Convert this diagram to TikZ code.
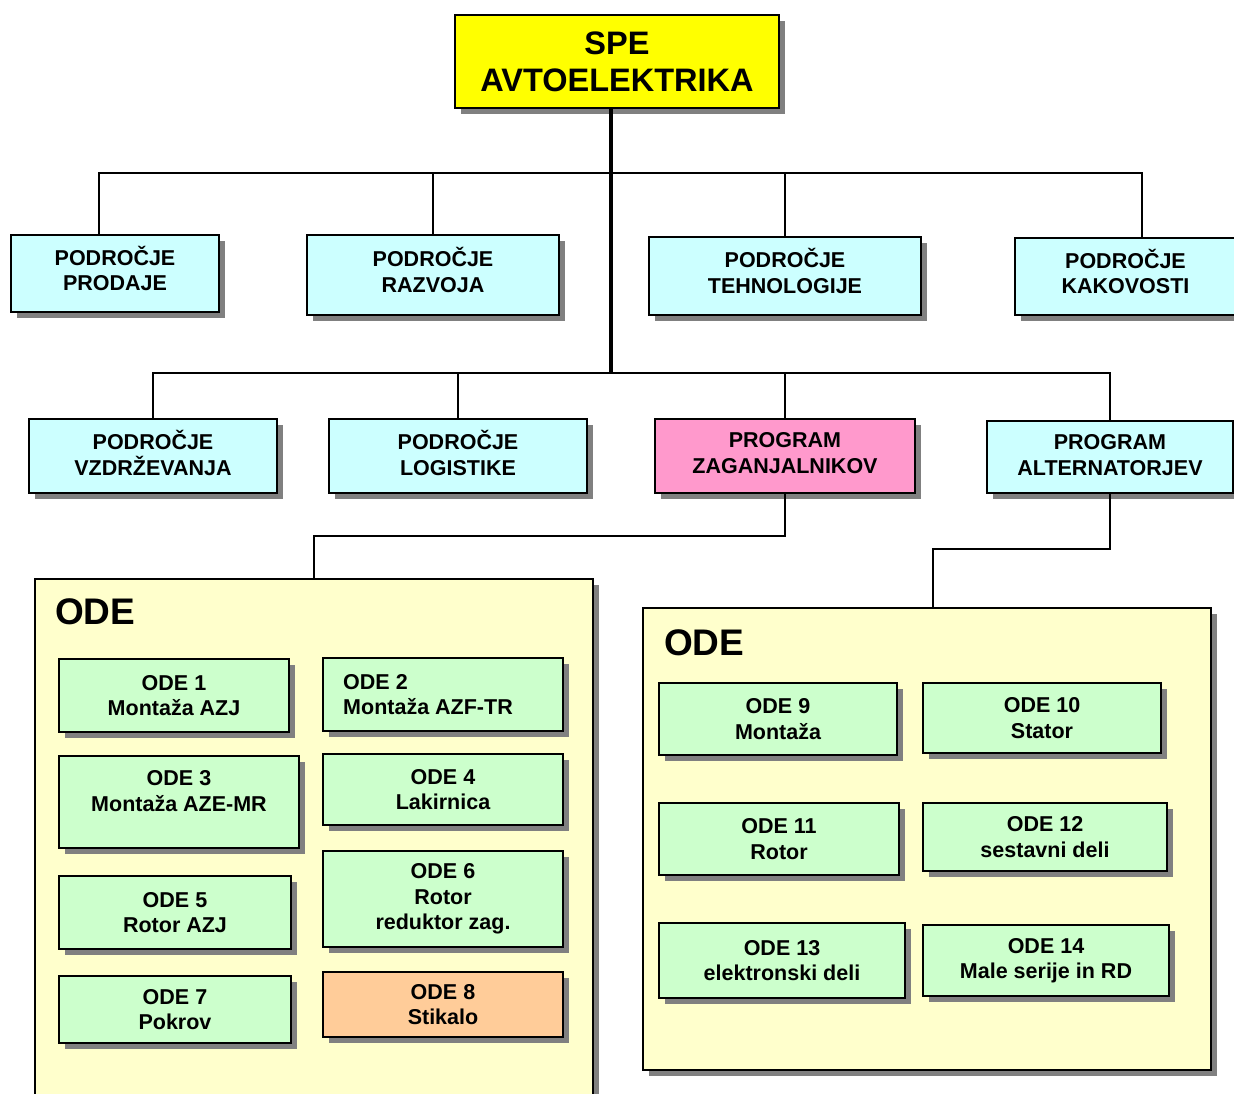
\documentclass[tikz,border=0pt]{standalone}
\usepackage{fontspec}
\setmainfont{Liberation Sans}
\usetikzlibrary{shadows,calc}

\definecolor{titleyellow}{HTML}{FFFF00}
\definecolor{areacyan}{HTML}{CCFFFF}
\definecolor{progpink}{HTML}{FF99CC}
\definecolor{panelyellow}{HTML}{FFFFCC}
\definecolor{unitgreen}{HTML}{CCFFCC}
\definecolor{unitorange}{HTML}{FFCC99}
\definecolor{shadowgray}{HTML}{808080}

\tikzset{
  boxbase/.style={rectangle, draw=black, line width=1.6pt, inner sep=0pt, align=center,
    font=\bfseries\fontsize{21.5}{25.5}\selectfont,
    drop shadow={shadow xshift=6pt, shadow yshift=-6pt, fill=shadowgray, opacity=1}},
  titlebox/.style={boxbase, fill=titleyellow, font=\bfseries\fontsize{32.5}{37}\selectfont},
  areabox/.style={boxbase, fill=areacyan},
  progbox/.style={boxbase, fill=progpink},
  panelbox/.style={boxbase, fill=panelyellow},
  unitbox/.style={boxbase, fill=unitgreen},
  unitalt/.style={boxbase, fill=unitorange},
  plaintext/.style={inner sep=0pt, align=center, font=\bfseries\fontsize{21.5}{25.5}\selectfont},
  % box caption sitting slightly above the box centre
  caption/.style 2 args={label={[plaintext, yshift=#1]center:#2}},
  paneltitle/.style={inner sep=0pt, font=\bfseries\fontsize{37}{40}\selectfont},
  conn/.style={draw=black, line width=1.8pt},
  bus/.style={draw=black, line width=2.4pt},
  trunk/.style={draw=black, line width=3.4pt},
}

\begin{document}
\begin{tikzpicture}[x=1pt, y=-1pt]
  \useasboundingbox (0,0) rectangle (1234,1093);
  \clip (0,0) rectangle (1234,1093);
  \fill[white] (0,0) rectangle (1234,1093);

  % top unit
  \node[titlebox, minimum width=324pt, minimum height=93pt] (spe) at (617,61.5) {SPE\\AVTOELEKTRIKA};

  % first row of areas
  \node[areabox, minimum width=208pt, minimum height=77pt, caption={5pt}{PODROČJE\\PRODAJE}] (prodaje) at (115,273.5) {};
  \node[areabox, minimum width=252pt, minimum height=80pt, caption={5pt}{PODROČJE\\RAZVOJA}] (razvoja) at (433,275) {};
  \node[areabox, minimum width=272pt, minimum height=78pt, caption={5pt}{PODROČJE\\TEHNOLOGIJE}] (tehno) at (785,276) {};
  \node[areabox, minimum width=221pt, minimum height=77pt, caption={5pt}{PODROČJE\\KAKOVOSTI}] (kakov) at (1125.5,276.5) {};

  % second row
  \node[areabox, minimum width=248pt, minimum height=74pt, caption={3pt}{PODROČJE\\VZDRŽEVANJA}] (vzd) at (153,456) {};
  \node[areabox, minimum width=258pt, minimum height=74pt, caption={3pt}{PODROČJE\\LOGISTIKE}] (logi) at (458,456) {};
  \node[progbox, minimum width=260pt, minimum height=74pt, caption={3pt}{PROGRAM\\ZAGANJALNIKOV}] (zag) at (785,456) {};
  \node[areabox, minimum width=246pt, minimum height=72pt, caption={2pt}{PROGRAM\\ALTERNATORJEV}] (alt) at (1110,457) {};

  % unit panels
  \node[panelbox, minimum width=558pt, minimum height=531pt] (panelL) at (314,844.5) {};
  \node[panelbox, minimum width=568pt, minimum height=462pt] (panelR) at (927,839) {};
  \node[paneltitle, anchor=base west] (odeL) at (55,624) {ODE};
  \node[paneltitle, anchor=base west] (odeR) at (664,655) {ODE};

  % units of the starter programme
  \node[unitbox, minimum width=230pt, minimum height=73pt] (o1) at (174,695.5) {ODE 1\\Montaža AZJ};
  \node[unitbox, minimum width=240pt, minimum height=73pt] (o2) at (443,694.5) {};
  \node[plaintext, anchor=west, align=left] (o2t) at (343,694.5) {ODE 2\\Montaža AZF-TR};
  \node[unitbox, minimum width=240pt, minimum height=92pt] (o3) at (179,802) {};
  \node[plaintext] (o3t) at (179,791) {ODE 3\\Montaža AZE-MR};
  \node[unitbox, minimum width=240pt, minimum height=71pt] (o4) at (443,789.5) {ODE 4\\Lakirnica};
  \node[unitbox, minimum width=232pt, minimum height=73pt] (o5) at (175,912.5) {ODE 5\\Rotor AZJ};
  \node[unitbox, minimum width=240pt, minimum height=96pt] (o6) at (443,899) {ODE 6\\Rotor\\reduktor zag.};
  \node[unitbox, minimum width=232pt, minimum height=67pt] (o7) at (175,1009.5) {ODE 7\\Pokrov};
  \node[unitalt, minimum width=240pt, minimum height=65pt] (o8) at (443,1004.5) {ODE 8\\Stikalo};

  % units of the alternator programme
  \node[unitbox, minimum width=238pt, minimum height=72pt] (o9) at (778,719) {ODE 9\\Montaža};
  \node[unitbox, minimum width=238pt, minimum height=70pt] (o10) at (1042,718) {ODE 10\\Stator};
  \node[unitbox, minimum width=240pt, minimum height=72pt] (o11) at (779,839) {ODE 11\\Rotor};
  \node[unitbox, minimum width=244pt, minimum height=68pt] (o12) at (1045,837) {ODE 12\\sestavni deli};
  \node[unitbox, minimum width=246pt, minimum height=75pt] (o13) at (782,960.5) {ODE 13\\elektronski deli};
  \node[unitbox, minimum width=246pt, minimum height=71pt] (o14) at (1046,960.5) {ODE 14\\Male serije in RD};

  % connectors
  \coordinate (bus1) at (611,173);
  \coordinate (bus2) at (611,373);
  \draw[trunk] ($(spe.south)+(-6,0)$) -- (bus2);

  \draw[bus] ($(prodaje.north)+(-16,0)$) |- (bus1);
  \draw[conn] (bus1) -| ($(kakov.north)+(16.5,0)$);
  \draw[conn] (razvoja.north) -- (razvoja.north |- bus1);
  \draw[conn] (tehno.north) -- (tehno.north |- bus1);

  \draw[bus] (vzd.north) |- (bus2 -| zag.north) -- (zag.north);
  \draw[conn] (bus2 -| zag.north) -| (alt.north);
  \draw[conn] (logi.north) -- (logi.north |- bus2);

  \draw[conn] (zag.south) -- ++(0,42) -| ($(panelL.north west)+(280,0)$);
  \draw[conn] (alt.south) -- ++(0,55) -| ($(panelR.north west)+(291,0)$);
\end{tikzpicture}
\end{document}
